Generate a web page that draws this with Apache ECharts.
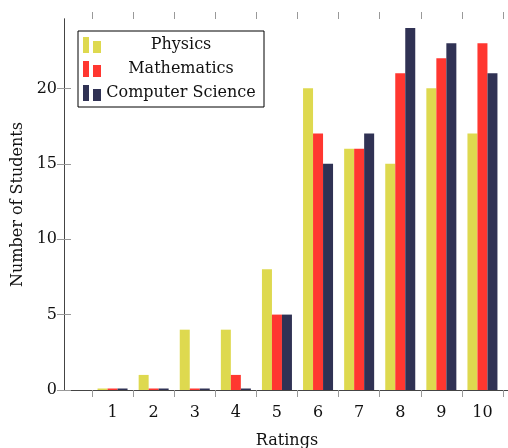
<!DOCTYPE html>
<html>
<head>
<meta charset="utf-8">
<script src="https://cdn.jsdelivr.net/npm/echarts@6/dist/echarts.min.js"></script>
<style>
  html, body { margin: 0; padding: 0; background: #fff; }
  #chart { width: 508px; height: 448px; }
</style>
</head>
<body>
<div id="chart"></div>
<script>
const ratings = ['1', '2', '3', '4', '5', '6', '7', '8', '9', '10'];
const physics = [0, 1, 4, 4, 8, 20, 16, 15, 20, 17];
const mathematics = [0, 0, 0, 1, 5, 17, 16, 21, 22, 23];
const computerScience = [0, 0, 0, 0, 5, 15, 17, 24, 23, 21];
const yTicks = [0, 5, 10, 15, 20];

const font = 'DejaVu Serif';
const lineColor = '#444';
const tickColor = '#999';
const yMax = 24.6;

const chart = echarts.init(document.getElementById('chart'));

// pgfplots-style ybar legend icon: two small bars
const barIcon = 'path://M0,0h6v16h-6z M10,4h8v12h-8z';

function bar(name, data, color) {
  return {
    name, type: 'bar', data,
    xAxisIndex: 2, yAxisIndex: 2,
    barWidth: 10, barGap: '0%',
    barMinHeight: 1.5,
    itemStyle: { color },
    emphasis: { disabled: true },
  };
}

chart.setOption({
  animation: false,
  backgroundColor: '#fff',
  textStyle: { fontFamily: font },
  grid: [
    // frame (right edge falls just outside the picture)
    { left: 64, right: -2, top: 19, bottom: 58, outerBoundsMode: 'none' },
    // bars
    { left: 92, right: 5, top: 19, bottom: 58, outerBoundsMode: 'none' },
  ],
  legend: {
    orient: 'vertical',
    left: 78, top: 31,
    padding: [6, 8, 6, 5],
    itemGap: 8,
    itemWidth: 18, itemHeight: 16,
    itemTextGap: 3,
    backgroundColor: '#fff',
    borderColor: '#000', borderWidth: 1,
    icon: barIcon,
    formatter: name => `{c|${name}}`,
    textStyle: {
      rich: { c: { width: 150, align: 'center', fontFamily: font, fontSize: 16, color: '#111', lineHeight: 16 } },
    },
    data: ['Physics', 'Mathematics', 'Computer Science'],
  },
  xAxis: [
    {
      gridIndex: 0, type: 'value', min: 0, max: 1, position: 'bottom',
      axisLine: { show: true, lineStyle: { color: lineColor } },
      axisTick: { show: false }, axisLabel: { show: false }, splitLine: { show: false },
      name: 'Ratings', nameLocation: 'middle', nameGap: 43,
      nameTextStyle: { fontFamily: font, fontSize: 16, color: '#111' },
    },
    {
      gridIndex: 0, type: 'value', min: 0, max: 1, position: 'top',
      axisLine: { show: true, lineStyle: { color: lineColor } },
      axisTick: { show: false }, axisLabel: { show: false }, splitLine: { show: false },
    },
    {
      gridIndex: 1, type: 'category', data: ratings, position: 'bottom',
      axisLine: { show: false },
      axisTick: { show: true, inside: false, length: 7, lineStyle: { color: tickColor } },
      axisLabel: { fontFamily: font, fontSize: 16, color: '#111', margin: 15 },
    },
    {
      gridIndex: 1, type: 'category', data: ratings, position: 'top',
      axisLine: { show: false },
      axisTick: { show: true, inside: false, length: 7, lineStyle: { color: tickColor } },
      axisLabel: { show: false },
    },
  ],
  yAxis: [
    {
      gridIndex: 0, type: 'value', min: 0, max: yMax, position: 'left',
      axisLine: { show: true, lineStyle: { color: lineColor } },
      axisTick: { show: true, inside: true, length: 7, customValues: yTicks, lineStyle: { color: tickColor } },
      axisLabel: { fontFamily: font, fontSize: 16, color: '#111', margin: 7, customValues: yTicks },
      splitLine: { show: false },
      name: 'Number of Students', nameLocation: 'middle', nameGap: 36,
      nameTextStyle: { fontFamily: font, fontSize: 16, color: '#111' },
    },
    {
      gridIndex: 0, type: 'value', min: 0, max: yMax, position: 'right',
      axisLine: { show: true, lineStyle: { color: lineColor } },
      axisTick: { show: true, inside: true, length: 7, customValues: yTicks, lineStyle: { color: tickColor } },
      axisLabel: { show: false }, splitLine: { show: false },
    },
    { gridIndex: 1, type: 'value', min: 0, max: yMax, show: false },
  ],
  series: [
    bar('Physics', physics, '#DED94F'),
    bar('Mathematics', mathematics, '#FF3730'),
    bar('Computer Science', computerScience, '#303254'),
  ],
});
</script>
</body>
</html>
